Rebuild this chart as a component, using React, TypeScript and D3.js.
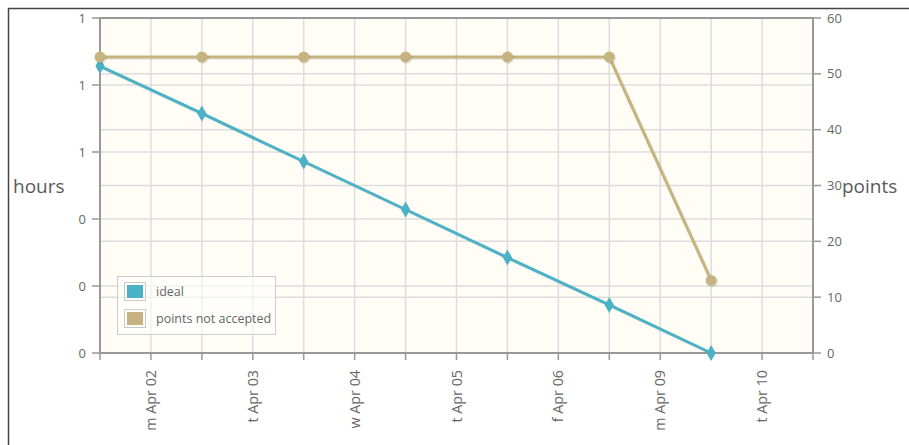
import React from "react";
import * as d3 from "d3";

const dayLabels = ["m Apr 02", "t Apr 03", "w Apr 04", "t Apr 05", "f Apr 06", "m Apr 09", "t Apr 10"];
const pointSlots = [0, 1, 2, 3, 4, 5, 6];
const idealValues = [51.4, 42.9, 34.3, 25.7, 17.1, 8.6, 0];
const notAcceptedValues = [53, 53, 53, 53, 53, 53, 13];
const hoursTicks = [0, 0.2, 0.4, 0.6, 0.8, 1];
const pointsTicks = [0, 10, 20, 30, 40, 50, 60];
const seriesNames = ["ideal", "points not accepted"];
const seriesColors = ["#4bb2c5", "#c5b47f"];

const W = 909;
const H = 445;
const L = 100, R = 813, T = 18, B = 353;
const FONT = "'Open Sans', 'DejaVu Sans', sans-serif";

export default function App() {
  const x = d3.scaleLinear().domain([0, 7]).range([L, R]);
  const yL = d3.scaleLinear().domain([0, 1]).range([B, T]);
  const yR = d3.scaleLinear().domain([0, 60]).range([B, T]);
  const gridX = d3.range(0, 7.01, 0.5);

  const line = (vals: number[]) =>
    d3.line<number>().x((_, i) => x(pointSlots[i])).y((v) => yR(v))(vals) || "";

  const diamond = d3.symbol().type(d3.symbolDiamond).size(75)() || "";

  return (
    <svg width={W} height={H} style={{ position: "absolute", left: 0, top: 0, display: "block" }} fontFamily={FONT}>
      <rect x={0} y={0} width={W} height={H} fill="#fff" />
      <line x1={8} y1={8.5} x2={W} y2={8.5} stroke="#444" strokeWidth={1.5} />
      <line x1={8.5} y1={8} x2={8.5} y2={H} stroke="#444" strokeWidth={1.5} />

      <rect x={L} y={T} width={R - L} height={B - T} fill="#fffdf6" />
      {gridX.map((g) => (
        <line key={"gx" + g} x1={x(g)} x2={x(g)} y1={T} y2={B} stroke="#ddd" strokeWidth={1.5} />
      ))}
      {hoursTicks.map((t) => (
        <line key={"gl" + t} x1={L} x2={R} y1={yL(t)} y2={yL(t)} stroke="#ddd" strokeWidth={1.5} />
      ))}
      {pointsTicks.map((t) => (
        <line key={"gr" + t} x1={L} x2={R} y1={yR(t)} y2={yR(t)} stroke="#ddd" strokeWidth={1.5} />
      ))}
      <rect x={L} y={T} width={R - L} height={B - T} fill="none" stroke="#999" strokeWidth={2} />

      {/* left axis */}
      {hoursTicks.map((t) => (
        <g key={"lt" + t}>
          <line x1={L - 8} x2={L} y1={yL(t)} y2={yL(t)} stroke="#999" strokeWidth={1.5} />
          <text x={L - 14} y={yL(t)} dy="0.35em" textAnchor="end" fontSize={13} fill="#666">
            {Math.round(t)}
          </text>
        </g>
      ))}
      {/* right axis */}
      {pointsTicks.map((t) => (
        <g key={"rt" + t}>
          <line x1={R} x2={R + 8} y1={yR(t)} y2={yR(t)} stroke="#999" strokeWidth={1.5} />
          <text x={R + 14} y={yR(t)} dy="0.35em" textAnchor="start" fontSize={13} fill="#666">
            {t}
          </text>
        </g>
      ))}
      {/* x axis */}
      {gridX.map((g) => (
        <line key={"xt" + g} x1={x(g)} x2={x(g)} y1={B} y2={B + 7} stroke="#999" strokeWidth={1.5} />
      ))}
      {dayLabels.map((d, i) => (
        <text
          key={"xl" + i}
          transform={`translate(${x(i + 0.5)},${370}) rotate(-90)`}
          dy="0.35em"
          textAnchor="end"
          fontSize={14.3}
          fill="#666"
        >
          {d}
        </text>
      ))}

      <text x={13} y={186} dy="0.35em" fontSize={19} fill="#5a5a5a">hours</text>
      <text x={842} y={186} dy="0.35em" fontSize={19} fill="#5a5a5a">points</text>

      {/* shadows */}
      <g transform="translate(1.5,1.5)" opacity={0.08}>
        <path d={line(idealValues)} fill="none" stroke="#000" strokeWidth={3} />
        <path d={line(notAcceptedValues)} fill="none" stroke="#000" strokeWidth={3} />
      </g>
      <path d={line(idealValues)} fill="none" stroke={seriesColors[0]} strokeWidth={3} />
      <path d={line(notAcceptedValues)} fill="none" stroke={seriesColors[1]} strokeWidth={3} />
      {idealValues.map((v, i) => (
        <path key={"dm" + i} d={diamond} transform={`translate(${x(pointSlots[i])},${yR(v)})`} fill={seriesColors[0]} />
      ))}
      {notAcceptedValues.map((v, i) => (
        <g key={"cm" + i}>
          <circle cx={x(pointSlots[i]) + 1} cy={yR(v) + 1} r={6} fill="#000" opacity={0.08} />
          <circle cx={x(pointSlots[i])} cy={yR(v)} r={5.5} fill={seriesColors[1]} />
        </g>
      ))}

      {/* legend */}
      <rect x={117.5} y={276.5} width={158} height={58} fill="rgba(255,255,255,0.6)" stroke="#ccc" strokeWidth={1} />
      {seriesNames.map((n, i) => (
        <g key={"lg" + i}>
          <rect x={124.5} y={282.5 + i * 27} width={21} height={18} fill="none" stroke="#ccc" strokeWidth={1} />
          <rect x={127} y={285 + i * 27} width={16} height={13} fill={seriesColors[i]} />
          <text x={156} y={291.5 + i * 27} dy="0.35em" fontSize={12.5} fill="#666">{n}</text>
        </g>
      ))}
    </svg>
  );
}
